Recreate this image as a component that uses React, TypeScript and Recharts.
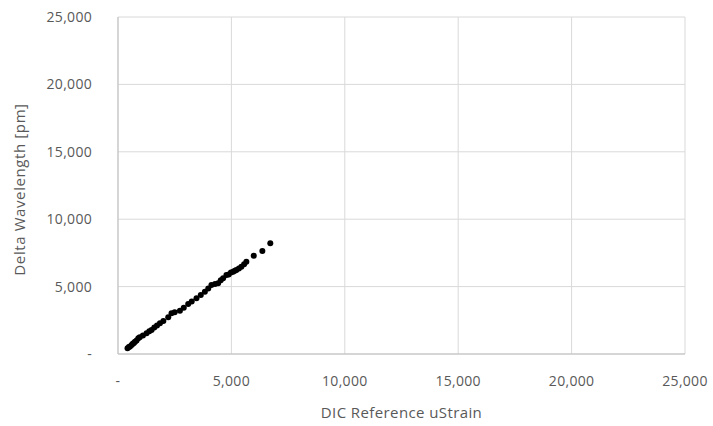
import { CartesianGrid, Scatter, ScatterChart, XAxis, YAxis } from "recharts"

// DIC reference strain vs. delta wavelength
const strainValues = [
    420, 480, 530, 600, 650, 700, 750, 820, 895, 960, 1100, 1260, 1380, 1480, 1600, 1720, 1850, 2000, 2215,
    2360, 2500, 2730, 2900, 3095, 3250, 3460, 3650, 3830, 3980, 4120, 4280, 4415, 4530, 4635, 4780, 4880,
    4980, 5075, 5150, 5220, 5330, 5440, 5560, 5660, 5985, 6365, 6715,
]
const wavelengthValues = [
    420, 520, 560, 670, 760, 810, 910, 1000, 1160, 1240, 1380, 1535, 1690, 1780, 1960, 2110, 2280, 2450, 2720,
    3020, 3100, 3215, 3430, 3710, 3900, 4130, 4370, 4625, 4860, 5120, 5200, 5245, 5480, 5615, 5860, 5900,
    6050, 6100, 6170, 6230, 6350, 6475, 6650, 6850, 7295, 7640, 8210,
]
const axisTicks = [0, 5000, 10000, 15000, 20000, 25000]

const points = strainValues.map((x, i) => ({ x, y: wavelengthValues[i] }))

const fmt = (v: number) => (v === 0 ? "-" : v.toLocaleString("en-US"))

const font = "'Open Sans', sans-serif"
const tickStyle = { fontSize: 14, fill: "#595959", fontFamily: font, letterSpacing: 0.3 }

export default function App() {
    return (
        <div style={{ position: "absolute", left: 0, top: 0, width: 713, height: 426, background: "#fff" }}>
            <ScatterChart width={713} height={426} margin={{ top: 17, right: 28, bottom: 12, left: 0 }}>
                <CartesianGrid stroke="#d9d9d9" />
                <XAxis
                    type="number"
                    dataKey="x"
                    domain={[0, 25000]}
                    ticks={axisTicks}
                    tickFormatter={fmt}
                    tick={tickStyle}
                    tickLine={false}
                    stroke="#bfbfbf"
                    tickMargin={16}
                    height={60}
                    label={{
                        value: "DIC Reference  uStrain",
                        position: "insideBottom",
                        offset: -4,
                        style: { fontSize: 15, fill: "#595959", fontFamily: font, letterSpacing: 0.4, whiteSpace: "pre" },
                    }}
                />
                <YAxis
                    type="number"
                    dataKey="y"
                    domain={[0, 25000]}
                    ticks={axisTicks}
                    tickFormatter={fmt}
                    tick={tickStyle}
                    tickLine={false}
                    stroke="#bfbfbf"
                    tickMargin={20}
                    width={118}
                    label={{
                        value: "Delta Wavelength [pm]",
                        angle: -90,
                        position: "insideLeft",
                        offset: 20,
                        dy: 4,
                        style: { fontSize: 15, fill: "#595959", fontFamily: font, textAnchor: "middle", letterSpacing: 0.6 },
                    }}
                />
                <Scatter
                    data={points}
                    fill="#000"
                    isAnimationActive={false}
                    shape={(p: any) => <circle cx={p.cx} cy={p.cy} r={3} fill="#000" />}
                />
            </ScatterChart>
        </div>
    )
}
